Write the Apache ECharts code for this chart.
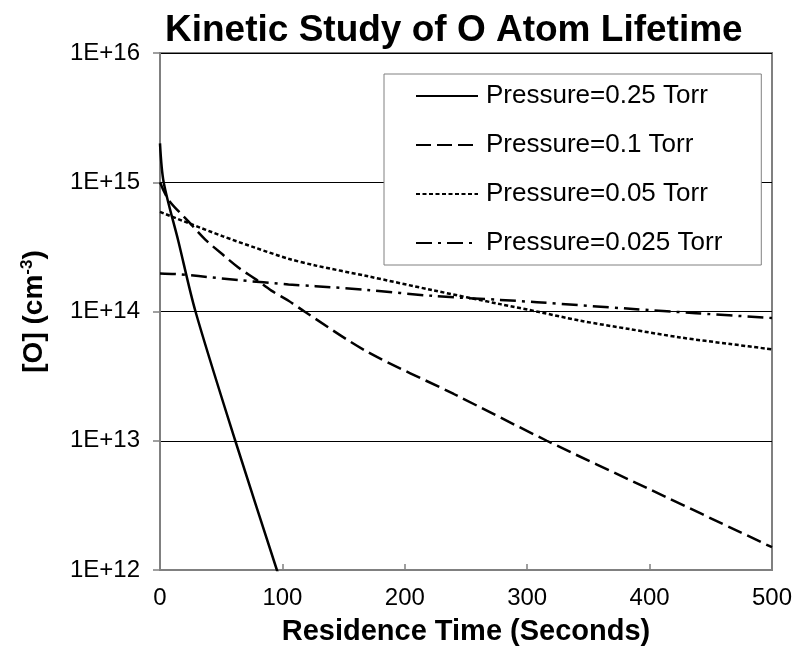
<!DOCTYPE html>
<html>
<head>
<meta charset="utf-8">
<script src="https://cdn.jsdelivr.net/npm/echarts@6/dist/echarts.min.js"></script>
<style>
  html, body { margin: 0; padding: 0; background: #fff; }
  #main { width: 805px; height: 651px; }
</style>
</head>
<body>
<div id="main"></div>
<script>
// values
var seriesNames = ['Pressure=0.25 Torr', 'Pressure=0.1 Torr', 'Pressure=0.05 Torr', 'Pressure=0.025 Torr'];

var time025 = [0, 3, 15, 29, 61.5, 95.5, 100];
var conc025 = [2.0e15, 1.0e15, 3.5e14, 1.0e14, 1.0e13, 1.0e12, 7.4e11];

var time010 = [0, 7, 23, 37, 51, 64, 78, 91, 105, 118, 169, 240, 316, 398, 500];
var conc010 = [1.0e15, 7.3e14, 5.0e14, 3.6e14, 2.77e14, 2.19e14, 1.78e14, 1.45e14, 1.21e14, 1.0e14, 4.9e13, 2.3e13, 1.0e13, 4.3e12, 1.5e12];

var time005 = [0, 23, 51, 78, 105, 127, 169, 223, 278, 310, 343, 384, 425, 466, 500];
var conc005 = [5.9e14, 4.84e14, 3.83e14, 3.11e14, 2.56e14, 2.27e14, 1.88e14, 1.46e14, 1.14e14, 9.9e13, 8.5e13, 7.3e13, 6.3e13, 5.6e13, 5.1e13];

var time0025 = [0, 12, 31.5, 64, 105, 127, 169, 223, 278, 308, 384, 438, 500];
var conc0025 = [1.97e14, 1.95e14, 1.88e14, 1.75e14, 1.62e14, 1.57e14, 1.47e14, 1.32e14, 1.23e14, 1.18e14, 1.05e14, 9.7e13, 8.9e13];

var xTicks = [0, 100, 200, 300, 400, 500];

function pairs(t, c) {
  var out = [];
  for (var i = 0; i < t.length; i++) out.push([t[i], c[i]]);
  return out;
}

var myChart = echarts.init(document.getElementById('main'));

var font = '"Liberation Sans", Arial, sans-serif';

var option = {
  backgroundColor: '#fff',
  textStyle: { fontFamily: font },
  title: {
    text: 'Kinetic Study of O Atom Lifetime',
    left: 160,
    top: 7,
    textStyle: { fontFamily: font, fontSize: 37, fontWeight: 'bold', color: '#000' }
  },
  legend: {
    orient: 'vertical',
    left: 384,
    top: 74,
    padding: [9, 39, 9, 31],
    itemWidth: 62,
    itemHeight: 26,
    itemGap: 23,
    backgroundColor: '#fff',
    borderColor: '#808080',
    borderWidth: 1,
    borderRadius: 0,
    itemStyle: { opacity: 0 },
    textStyle: { fontFamily: font, fontSize: 26, color: '#000', padding: [0, 0, 0, 3] },
    data: seriesNames
  },
  grid: {
    left: 160,
    right: 33,
    top: 53,
    bottom: 79,
    show: true,
    borderColor: '#808080',
    borderWidth: 2,
    backgroundColor: 'transparent'
  },
  xAxis: {
    type: 'value',
    min: xTicks[0],
    max: xTicks[xTicks.length - 1],
    interval: 100,
    name: 'Residence Time (Seconds)',
    nameLocation: 'middle',
    nameGap: 47,
    nameTextStyle: { fontFamily: font, fontSize: 29, fontWeight: 'bold', color: '#000' },
    axisLine: { lineStyle: { color: '#808080', width: 2 } },
    axisTick: { inside: true, length: 6, lineStyle: { color: '#808080', width: 1.5 } },
    axisLabel: { fontFamily: font, fontSize: 24, color: '#000', margin: 16 },
    splitLine: { show: false }
  },
  yAxis: {
    type: 'log',
    logBase: 10,
    min: 1e12,
    max: 1e16,
    name: '[O] (cm{sup|-3})',
    nameLocation: 'middle',
    nameGap: 110,
    nameRotate: 90,
    nameTextStyle: {
      fontFamily: font, fontSize: 28, fontWeight: 'bold', color: '#000',
      rich: {
        sup: { fontFamily: font, fontSize: 17, fontWeight: 'bold', color: '#000', verticalAlign: 'top', padding: [0, 0, 14, 0] }
      }
    },
    axisLine: { show: true, lineStyle: { color: '#808080', width: 2 } },
    axisTick: { show: true, inside: false, length: 7, lineStyle: { color: '#808080', width: 1.5 } },
    axisLabel: {
      fontFamily: font, fontSize: 24, color: '#000', margin: 20,
      formatter: function (v) { return '1E+' + Math.round(Math.log10(v)); }
    },
    splitLine: { show: true, lineStyle: { color: '#000', width: 1 } },
    minorTick: { show: false }
  },
  series: [
    {
      name: seriesNames[0],
      type: 'line',
      data: pairs(time025, conc025),
      symbol: 'none',
      smooth: 0.3,
      lineStyle: { color: '#000', width: 2.5, type: 'solid' },
      itemStyle: { color: '#000' }
    },
    {
      name: seriesNames[1],
      type: 'line',
      data: pairs(time010, conc010),
      symbol: 'none',
      smooth: 0.3,
      lineStyle: { color: '#000', width: 2.5, type: [15, 6] },
      itemStyle: { color: '#000' }
    },
    {
      name: seriesNames[2],
      type: 'line',
      data: pairs(time005, conc005),
      symbol: 'none',
      smooth: 0.3,
      lineStyle: { color: '#000', width: 2.5, type: [4, 2.5] },
      itemStyle: { color: '#000' }
    },
    {
      name: seriesNames[3],
      type: 'line',
      data: pairs(time0025, conc0025),
      symbol: 'none',
      smooth: 0.3,
      lineStyle: { color: '#000', width: 2.5, type: [16, 6, 3, 6] },
      itemStyle: { color: '#000' }
    }
  ]
};

option && myChart.setOption(option);
</script>
</body>
</html>
